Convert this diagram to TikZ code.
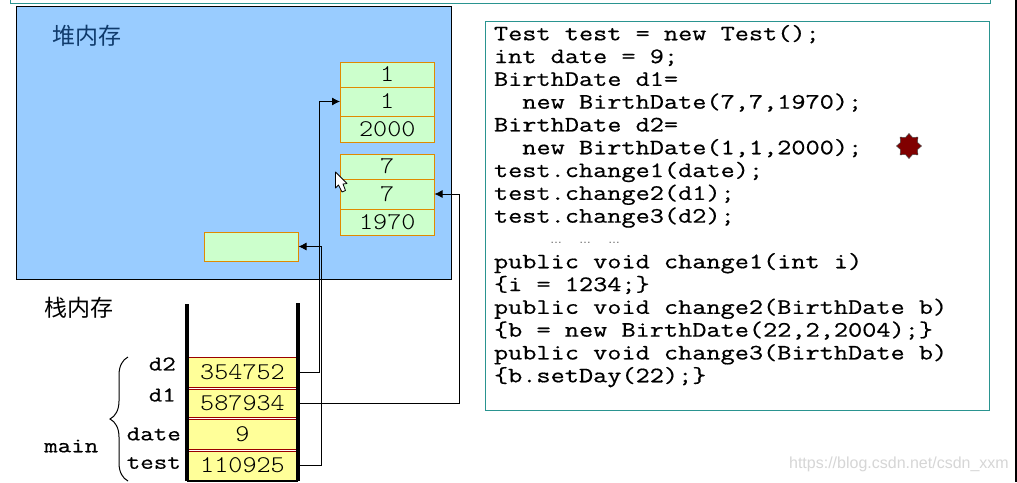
\documentclass[tikz,border=0pt]{standalone}
\usepackage{fontspec}
\usepackage{xcolor}
\setsansfont{Liberation Sans}
\newfontfamily\cjk{Noto Sans CJK SC}
\newfontfamily\monoslot[FakeStretch=1.12]{Latin Modern Mono Light}
\newfontfamily\monocode[FakeStretch=1.25,FakeBold=0.6]{Latin Modern Mono}
\definecolor{cHeap}{HTML}{99CCFF}
\definecolor{cCell}{HTML}{CCFFCC}
\definecolor{cEdge}{HTML}{E08A00}
\definecolor{cSlot}{HTML}{FFFF99}
\definecolor{cSep}{HTML}{990000}
\definecolor{cTeal}{HTML}{2A9490}
\definecolor{cNavy}{HTML}{0F3A6B}
\definecolor{cStar}{HTML}{800000}
\usetikzlibrary{positioning,arrows.meta,shapes.geometric,decorations.pathreplacing}
\tikzset{
  node-cell/.style={draw=cEdge,line width=.9pt,fill=cCell,minimum width=94.5pt,
    inner sep=0pt,outer sep=0pt,font=\monoslot\fontsize{24}{24}\selectfont},
  node-slot/.style={fill=cSlot,minimum width=108pt,inner sep=0pt,outer sep=0pt,
    font=\monoslot\fontsize{24}{24}\selectfont},
  node-code/.style={anchor=north west,align=left,inner sep=0pt,outer sep=0pt,
    font=\monocode\fontsize{22}{22.8}\selectfont},
  node-tag/.style={inner sep=0pt,font=\monocode\fontsize{21}{21}\selectfont},
  node-title/.style={inner sep=0pt,font=\cjk\fontsize{23}{23}\selectfont},
  arrow/.style={-{Latex[length=8pt,width=8pt]},line width=.8pt,draw=black},
  slot-sep/.style={draw=cSep,line width=1pt,double=white,double distance=1pt},
  stack-wall/.style={draw=black,line width=3.4pt},
}
\begin{document}
\begin{tikzpicture}[x=1pt,y=-1pt,node distance=0pt and 0pt]
  \useasboundingbox[fill=white] (0,0) rectangle (1017,482);
  \draw[cTeal,line width=1pt] (10,-5) rectangle (990,3);
  \fill[black] (1015,0) rectangle (1017,482);
  % heap
  \fill[cHeap] (16,6) rectangle (451.5,279);
  \draw[black,line width=1pt] (16,6) rectangle (451.5,279);
  \node[node-title,text=cNavy,anchor=west] (heaptitle) at (52,36) {堆内存};
  \node[node-cell,minimum height=25pt,anchor=north west] (d2day) at (340,62) {1};
  \node[node-cell,minimum height=29pt,below=of d2day] (d2month) {1};
  \node[node-cell,minimum height=26pt,below=of d2month] (d2year) {2000};
  \node[node-cell,minimum height=25pt,anchor=north west] (d1day) at (340,154) {7};
  \node[node-cell,minimum height=30pt,below=of d1day] (d1month) {7};
  \node[node-cell,minimum height=26pt,below=of d1month] (d1year) {1970};
  \node[node-cell,minimum height=29pt,anchor=north west] (testobj) at (204,232) {};
  % stack
  \node[node-title,anchor=west] (stacktitle) at (44,308) {栈内存};
  \node[node-slot,minimum height=31pt,anchor=north west] (slotd2) at (188.5,357) {354752};
  \node[node-slot,minimum height=30pt,below=of slotd2] (slotd1) {587934};
  \node[node-slot,minimum height=32pt,below=of slotd1] (slotdate) {9};
  \node[node-slot,minimum height=30pt,below=of slotdate] (slottest) {110925};
  \draw[cSep,line width=.8pt] (slotd2.north west) -- (slotd2.north east);
  \draw[slot-sep] (slotd2.south west) -- (slotd2.south east);
  \draw[slot-sep] (slotd1.south west) -- (slotd1.south east);
  \draw[slot-sep] (slotdate.south west) -- (slotdate.south east);
  \draw[stack-wall] (187,304) -- (187,481);
  \draw[stack-wall] (298,303) -- (298,481);
  \draw[black,line width=1.4pt] (187,481) -- (298,481);
  \node[node-tag,anchor=east] (tagd2) at (176,364) {d2};
  \node[node-tag,anchor=east] (tagd1) at (176,395) {d1};
  \node[node-tag,anchor=east] (tagdate) at (181,434) {date};
  \node[node-tag,anchor=east] (tagtest) at (181,463) {test};
  \node[node-tag,anchor=west] (tagmain) at (44,446) {main};
  \draw[decorate,decoration={brace,amplitude=18pt},line width=1pt]
    (128,481) -- (128,357);
  % connectors
  \coordinate (busd2) at (319.5,0);
  \coordinate (bustest) at (321.5,0);
  \coordinate (busd1) at (459,0);
  \draw[arrow] (slotd2.east) -- (busd2 |- slotd2.east) |- (d2month.west);
  \draw[arrow] (slotd1.east) -- (busd1 |- slotd1.east) |- (d1month.east);
  \draw[arrow] (slottest.east) -- (bustest |- slottest.east) |- (testobj.east);
  % cursor
  \draw[fill=white,line width=.8pt,line join=round] (335.5,172) -- (335.5,188) -- (338.5,185)
    -- (342,192) -- (345.5,190.5) -- (343,184) -- (347,183.5) -- cycle;
  % code
  \draw[cTeal,line width=1pt] (485.5,21) rectangle (989.5,410);
  \node[node-code] (codemain) at (494,25) {%
    Test test = new Test();\\
    int date = 9;\\
    BirthDate d1=\\
    \phantom{xx}new BirthDate(7,7,1970);\\
    BirthDate d2=\\
    \phantom{xx}new BirthDate(1,1,2000);\\
    test.change1(date);\\
    test.change2(d1);\\
    test.change3(d2);};
  \node[inner sep=0pt,text=black!60,font=\sffamily\fontsize{12}{12}\selectfont,anchor=west]
    (codedots) at (550,243) {…\hspace{17pt}…\hspace{17pt}…};
  \node[node-code] (codemethods) at (494,253) {%
    public void change1(int i)\\
    \{i = 1234;\}\\
    public void change2(BirthDate b)\\
    \{b = new BirthDate(22,2,2004);\}\\
    public void change3(BirthDate b)\\
    \{b.setDay(22);\}};
  \node[star,star points=8,star point ratio=1.35,fill=cStar,draw=black!70,line width=.5pt,
    minimum size=25pt,inner sep=0pt] (marker) at (909,146) {};
  \node[inner sep=0pt,anchor=east,text=black!16,font=\sffamily\fontsize{16}{16}\selectfont]
    (watermark) at (1009,464) {https://blog.csdn.net/csdn\_xxm};
\end{tikzpicture}
\end{document}
